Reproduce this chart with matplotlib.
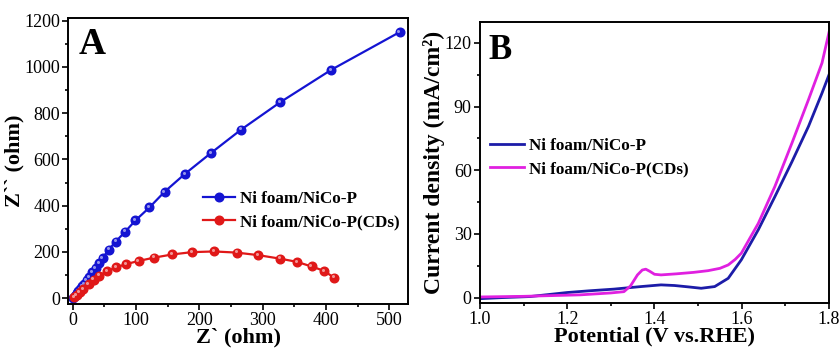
import matplotlib
matplotlib.use("Agg")
import matplotlib.pyplot as plt
from matplotlib.ticker import MultipleLocator, AutoMinorLocator
from matplotlib.transforms import offset_copy

plt.rcParams['font.family'] = ['Liberation Serif', 'DejaVu Serif']

# Nyquist data (ohm)
nico_zre = [1, 3, 5, 7, 9, 12, 15, 18, 22, 26, 31, 36, 41, 47, 57, 68, 83, 99, 121, 145, 177, 218, 266, 327, 408, 516]
nico_zim = [2, 8, 15, 22, 30, 40, 52, 62, 78, 92, 112, 130, 150, 172, 210, 245, 288, 336, 392, 460, 537, 627, 729, 846, 987, 1150]
cds_zre = [2, 6, 11, 17, 25, 33, 42, 54, 68, 84, 104, 128, 157, 188, 223, 259, 293, 327, 354, 377, 397, 412]
cds_zim = [5, 15, 26, 38, 60, 80, 98, 116, 133, 147, 161, 175, 189, 199, 202, 197, 186, 171, 157, 137, 118, 89]

# LSV data
nico_v = [1.00, 1.05, 1.115, 1.20, 1.25, 1.307, 1.369, 1.415, 1.446, 1.48, 1.507, 1.538, 1.569, 1.599,
          1.638, 1.676, 1.715, 1.753, 1.784, 1.80]
nico_j = [-0.5, 0.0, 0.5, 2.4, 3.2, 4.0, 5.2, 6.0, 5.7, 5.0, 4.4, 5.2, 9.1, 17.8,
          32.0, 47.6, 64.0, 80.7, 96.4, 105.0]
cds_v = [1.00, 1.10, 1.23, 1.30, 1.33, 1.345, 1.361, 1.372, 1.38, 1.39, 1.40, 1.415, 1.45, 1.49,
         1.523, 1.55, 1.569, 1.585, 1.599, 1.638, 1.676, 1.715, 1.753, 1.784, 1.80]
cds_j = [0.3, 0.6, 1.3, 2.2, 2.8, 5.5, 10.7, 13.0, 13.4, 12.3, 11.0, 10.7, 11.2, 11.9,
         12.7, 13.8, 15.4, 18.0, 20.9, 35.0, 52.4, 72.8, 93.3, 110.6, 125.0]

label_nico = 'Ni foam/NiCo-P'
label_cds = 'Ni foam/NiCo-P(CDs)'

fig = plt.figure(figsize=(8.4, 3.51), dpi=100)
ax1 = fig.add_axes([0.0813, 0.134, 0.405, 0.814])
ax2 = fig.add_axes([0.5714, 0.137, 0.4155, 0.801])


def style_axes(ax):
    for s in ax.spines.values():
        s.set_linewidth(1.4)
    ax.tick_params(which='both', direction='out', top=False, right=False, labelsize=13, width=1.2, pad=2)
    ax.tick_params(which='major', length=4)
    ax.tick_params(which='minor', length=2.5)
    ax.xaxis.set_minor_locator(AutoMinorLocator(2))
    ax.yaxis.set_minor_locator(AutoMinorLocator(2))


# panel A: impedance
for x, y, c, lab in [(nico_zre, nico_zim, '#1414d2', label_nico), (cds_zre, cds_zim, '#e01818', label_cds)]:
    ax1.plot(x, y, '-o', color=c, lw=1.6, ms=6.2, mfc=c, mec=c, label=lab)
    # small highlight so the markers look like shaded balls
    hl = offset_copy(ax1.transData, fig=fig, x=-1.2, y=1.2, units='dots')
    ax1.plot(x, y, 'o', color='white', ms=2.2, alpha=0.55, mec='none', transform=hl)

ax1.set_xlim(-7, 530)
ax1.set_ylim(-25, 1210)
ax1.xaxis.set_major_locator(MultipleLocator(100))
ax1.yaxis.set_major_locator(MultipleLocator(200))
style_axes(ax1)
ax1.set_xlabel('Z` (ohm)', fontsize=16, fontweight='bold', labelpad=-1)
ax1.set_ylabel('Z`` (ohm)', fontsize=16, fontweight='bold', labelpad=0)
ax1.text(0.03, 0.97, 'A', transform=ax1.transAxes, fontsize=27, fontweight='bold', va='top', ha='left')
ax1.legend(loc='center left', bbox_to_anchor=(0.395, 0.326), frameon=False, borderpad=0, borderaxespad=0,
           handlelength=1.9, handletextpad=0.3, labelspacing=0.4,
           prop={'weight': 'bold', 'size': 12.3})

# panel B: polarization curves
ax2.plot(nico_v, nico_j, color='#1c1ca8', lw=2.0, label=label_nico)
ax2.plot(cds_v, cds_j, color='#e020e0', lw=2.0, label=label_cds)
ax2.set_xlim(1.0, 1.8)
ax2.set_ylim(-2.5, 130)
ax2.xaxis.set_major_locator(MultipleLocator(0.2))
ax2.yaxis.set_major_locator(MultipleLocator(30))
style_axes(ax2)
ax2.set_xlabel('Potential (V vs.RHE)', fontsize=16, fontweight='bold', labelpad=-1)
ax2.set_ylabel('Current density (mA/cm²)', fontsize=17, fontweight='bold', labelpad=0)
ax2.text(0.025, 0.955, 'B', transform=ax2.transAxes, fontsize=25, fontweight='bold', va='top', ha='left')
ax2.legend(loc='center left', bbox_to_anchor=(0.029, 0.517), frameon=False, borderpad=0, borderaxespad=0,
           handlelength=2.0, handletextpad=0.3, labelspacing=0.4,
           prop={'weight': 'bold', 'size': 12.3})

fig.savefig('out.png', dpi=100)
